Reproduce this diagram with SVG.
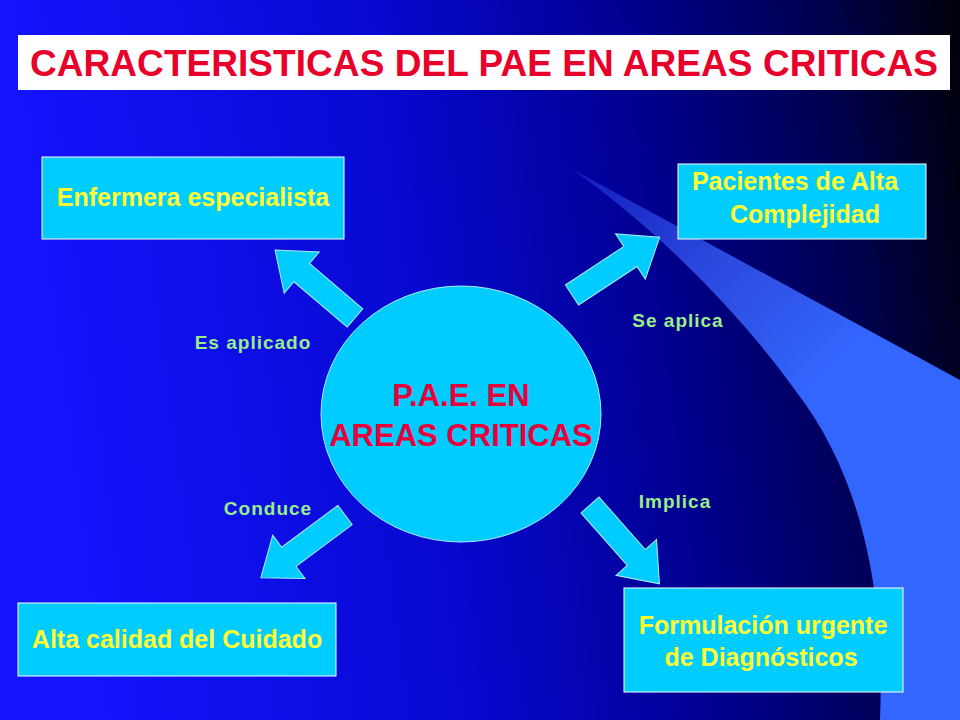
<svg xmlns="http://www.w3.org/2000/svg" width="960" height="720" viewBox="0 0 960 720">
<defs>
<linearGradient id="bg" x1="0" y1="0.1" x2="1" y2="0">
<stop offset="0" stop-color="#1414ff"/>
<stop offset="0.4" stop-color="#0808d0"/>
<stop offset="0.65" stop-color="#000090"/>
<stop offset="0.85" stop-color="#000050"/>
<stop offset="1" stop-color="#000008"/>
</linearGradient>
<linearGradient id="sw" x1="570" y1="168" x2="800" y2="400" gradientUnits="userSpaceOnUse">
<stop offset="0" stop-color="#3355ff" stop-opacity="0.3"/>
<stop offset="0.5" stop-color="#3355ee" stop-opacity="0.85"/>
<stop offset="1" stop-color="#3366ff"/>
</linearGradient>
<path id="arr" d="M0,-12 L70,-12 L70,-27 L105,0 L70,27 L70,12 L0,12 Z"/>
</defs>
<style>
.box{fill:#00ccff;stroke:#ffffff;stroke-width:1}
.bt{font-family:"Liberation Sans",Arial,sans-serif;font-weight:bold;font-size:25px;fill:#ffff33;text-anchor:middle}
.lb{font-family:"Liberation Sans",Arial,sans-serif;font-weight:bold;font-size:19px;fill:#99ee88;text-anchor:middle;letter-spacing:1px}
.a{fill:#00ccff;stroke:#aaeeff;stroke-width:1}
.ct{font-family:"Liberation Sans",Arial,sans-serif;font-weight:bold;font-size:31px;fill:#e8003c;text-anchor:middle}
</style>
<rect width="960" height="720" fill="url(#bg)"/>
<path d="M570,168 L960,380 L960,720 L880,720 C885,600 865,480 795,390 C745,320 660,230 570,168 Z" fill="url(#sw)"/>
<rect x="18" y="35" width="932" height="55" fill="#ffffff"/>
<text x="30" y="76" font-family="Liberation Sans,Arial,sans-serif" font-weight="bold" font-size="37" fill="#e8002a" textLength="908">CARACTERISTICAS DEL PAE EN AREAS CRITICAS</text>
<g id="connectors">
<use href="#arr" class="a" transform="translate(355,318) rotate(220.4)"/>
<use href="#arr" class="a" transform="translate(572,295) rotate(-33.4)"/>
<use href="#arr" class="a" transform="translate(345,515) rotate(143.3)"/>
<use href="#arr" class="a" transform="translate(590,505) rotate(48.6)"/>
<text class="lb" x="253" y="349">Es aplicado</text>
<text class="lb" x="678" y="327">Se aplica</text>
<text class="lb" x="268" y="515">Conduce</text>
<text class="lb" x="675" y="508">Implica</text>
</g>
<g id="center">
<ellipse cx="461" cy="414" rx="140" ry="128" fill="#00ccff" stroke="#aaeeff"/>
<text class="ct" x="461" y="406">P.A.E. EN</text>
<text class="ct" x="461" y="446">AREAS CRITICAS</text>
</g>
<g id="enfermera"><rect class="box" x="42" y="157" width="302" height="82"/><text class="bt" x="193" y="206">Enfermera especialista</text></g>
<g id="pacientes"><rect class="box" x="678" y="164" width="248" height="75"/><text class="bt" x="795" y="190">Pacientes de Alta</text><text class="bt" x="805" y="223">Complejidad</text></g>
<g id="calidad"><rect class="box" x="18" y="603" width="318" height="73"/><text class="bt" x="177" y="648">Alta calidad del Cuidado</text></g>
<g id="formulacion"><rect class="box" x="624" y="588" width="279" height="104"/><text class="bt" x="763" y="634">Formulación urgente</text><text class="bt" x="761" y="666">de Diagnósticos</text></g>
</svg>
